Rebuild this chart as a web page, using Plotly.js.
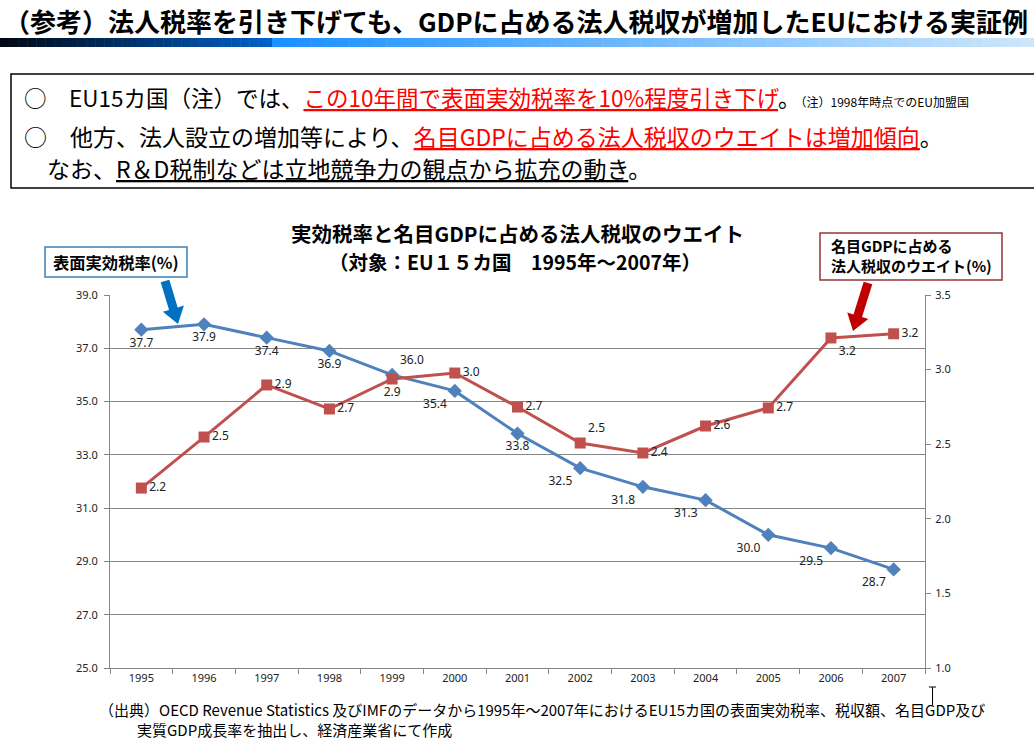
<!DOCTYPE html>
<html><head><meta charset="utf-8">
<script src="https://cdn.plot.ly/plotly-3.0.1.min.js"></script>
<style>html,body{margin:0;padding:0;background:#fff;}#chart{width:1034px;height:740px;}</style>
</head><body><div id="chart"></div>
<script>
// ---- data ----
const years = ['1995','1996','1997','1998','1999','2000','2001','2002','2003','2004','2005','2006','2007'];
const taxRate = [37.7, 37.9, 37.4, 36.9, 36.0, 35.4, 33.8, 32.5, 31.8, 31.3, 30.0, 29.5, 28.7];
const taxShare = [2.206, 2.548, 2.897, 2.736, 2.937, 2.977, 2.749, 2.508, 2.441, 2.622, 2.743, 3.212, 3.24];
const rateLabelPos = ['bottom center','bottom center','bottom center','bottom center','top right','bottom left','bottom center','bottom left','bottom left','bottom left','bottom left','bottom left','bottom left'];
const shareLabelPos = ['middle right','middle right','middle right','middle right','bottom center','middle right','middle right','top right','middle right','middle right','middle right','bottom right','middle right'];

const JP = '"Noto Sans CJK JP", "Noto Sans", sans-serif';
const NUM = '"Noto Sans", "Open Sans", sans-serif';

// layout geometry (pixels)
const M = {l:110, r:109, t:295, b:72};
const W = 1034, H = 740;
const PW = W - M.l - M.r, PH = H - M.t - M.b;
const px = p => (p - M.l) / PW;
const py = p => (H - M.b - p) / PH;

const traces = [
  {x: years, y: taxRate, type:'scatter', mode:'lines+markers+text', yaxis:'y',
   line:{color:'#4f81bd', width:3}, marker:{symbol:'diamond', size:11, color:'#4f81bd'},
   text: taxRate.map(v=>v.toFixed(1)), textposition: rateLabelPos,
   textfont:{family:NUM, size:12, color:'#222'}, cliponaxis:false, hoverinfo:'skip'},
  {x: years, y: taxShare, type:'scatter', mode:'lines+markers+text', yaxis:'y2',
   line:{color:'#c0504d', width:3}, marker:{symbol:'square', size:11, color:'#c0504d'},
   text: taxShare.map(v=>v.toFixed(1)), textposition: shareLabelPos,
   textfont:{family:NUM, size:12, color:'#222'}, cliponaxis:false, hoverinfo:'skip'}
];

const shapes = [];
// gradient bar under header
const N = 60;
for (let i=0;i<N;i++){
  const x0 = i*272/N, x1 = (i+1)*272/N + 0.5, t = i/(N-1);
  const c = [0, Math.round(8+(96-8)*t), Math.round(20+(200-20)*t)];
  shapes.push({type:'rect', xref:'paper', yref:'paper', x0:px(x0), x1:px(x1), y0:py(38), y1:py(47), fillcolor:`rgb(${c[0]},${c[1]},${c[2]})`, line:{width:0}, layer:'above'});
}
for (let i=0;i<N;i++){
  const x0 = 272 + i*(W-272)/N, x1 = 272 + (i+1)*(W-272)/N + 0.5, t = i/(N-1);
  const c = [Math.round(28+(205-28)*t), Math.round(144+(230-144)*t), Math.round(255+(250-255)*t)];
  shapes.push({type:'rect', xref:'paper', yref:'paper', x0:px(x0), x1:px(x1), y0:py(38), y1:py(47), fillcolor:`rgb(${c[0]},${c[1]},${c[2]})`, line:{width:0}, layer:'above'});
}
// main text box
shapes.push({type:'rect', xref:'paper', yref:'paper', x0:px(11), x1:px(1040), y0:py(74), y1:py(188), line:{color:'#000', width:1.5}});
// callout boxes
shapes.push({type:'rect', xref:'paper', yref:'paper', x0:px(45), x1:px(187), y0:py(247), y1:py(277), line:{color:'#3b7fb5', width:1.5}, fillcolor:'#fff'});
shapes.push({type:'rect', xref:'paper', yref:'paper', x0:px(820), x1:px(1002), y0:py(233), y1:py(280), line:{color:'#943634', width:1.5}, fillcolor:'#fff'});
// block arrows
function arrow(x0,y0,x1,y1,color){
  const dx=x1-x0, dy=y1-y0, L=Math.hypot(dx,dy), ux=dx/L, uy=dy/L, nx=-uy, ny=ux;
  const sw=4.5, hw=11, hl=16;
  const bx=x1-ux*hl, by=y1-uy*hl;
  const pts=[[x0+nx*sw,y0+ny*sw],[bx+nx*sw,by+ny*sw],[bx+nx*hw,by+ny*hw],[x1,y1],[bx-nx*hw,by-ny*hw],[bx-nx*sw,by-ny*sw],[x0-nx*sw,y0-ny*sw]];
  const path='M'+pts.map(p=>px(p[0]).toFixed(5)+','+py(p[1]).toFixed(5)).join(' L')+' Z';
  shapes.push({type:'path', xref:'paper', yref:'paper', path:path, fillcolor:color, line:{width:0}});
}
arrow(165,281,178,324,'#0070c0');
arrow(868,283,853,331,'#c00000');
// I-beam cursor artifact
shapes.push({type:'line', xref:'paper', yref:'paper', x0:px(932.5), x1:px(932.5), y0:py(687), y1:py(705), line:{color:'#000', width:1}});
shapes.push({type:'line', xref:'paper', yref:'paper', x0:px(929), x1:px(936), y0:py(687), y1:py(687), line:{color:'#000', width:1}});

const RED = 'color:#ff0000;text-decoration:underline';
const ann = (x,y,text,size,opts={}) => Object.assign({xref:'paper', yref:'paper', x:px(x), y:py(y), text:text, showarrow:false, xanchor:'left', yanchor:'middle', align:'left', font:{family:JP, size:size, color:'#000'}}, opts);

const annotations = [
  ann(2, 20, '<b>（参考）法人税率を引き下げても、GDPに占める法人税収が増加したEUにおける実証例</b>', 26),
  ann(22, 97, '○　EU15カ国（注）では、<span style="'+RED+'">この10年間で表面実効税率を10%程度引き下げ</span>。<span style="font-size:12px">（注）1998年時点でのEU加盟国</span>', 22.5),
  ann(22, 136, '○　他方、法人設立の増加等により、<span style="'+RED+'">名目GDPに占める法人税収のウエイトは増加傾向</span>。', 23),
  ann(22, 168, '　なお、<span style="text-decoration:underline">R＆D税制などは立地競争力の観点から拡充の動き</span>。', 23),
  ann(517, 233, '<b>実効税率と名目GDPに占める法人税収のウエイト</b>', 20.5, {xanchor:'center'}),
  ann(515, 261, '<b>（対象：EU１５カ国　1995年～2007年）</b>', 19.5, {xanchor:'center'}),
  ann(116, 262, '<b>表面実効税率(%)</b>', 16.3, {xanchor:'center'}),
  ann(829, 256, '<b>名目GDPに占める<br>法人税収のウエイト(%)</b>', 15),
  ann(97, 709, '（出典）OECD Revenue Statistics 及びIMFのデータから1995年～2007年におけるEU15カ国の表面実効税率、税収額、名目GDP及び', 15),
  ann(135, 729, '実質GDP成長率を抽出し、経済産業省にて作成', 15)
];

const layout = {
  width:W, height:H, margin:{l:M.l, r:M.r, t:M.t, b:M.b, pad:0},
  paper_bgcolor:'#fff', plot_bgcolor:'#fff', showlegend:false,
  font:{family:NUM, size:11, color:'#222'},
  xaxis:{type:'category', range:[-0.5,12.5], tickson:'boundaries', ticks:'outside', ticklen:5, tickcolor:'#868686',
         showline:true, linecolor:'#868686', linewidth:1, showgrid:false, tickfont:{family:NUM, size:11, color:'#222'}, fixedrange:true},
  yaxis:{range:[25,39], dtick:2, tick0:25, tickformat:'.1f', ticks:'outside', ticklen:5, tickcolor:'#868686',
         showline:true, linecolor:'#868686', linewidth:1, showgrid:true, gridcolor:'#868686', gridwidth:1, zeroline:false,
         tickfont:{family:NUM, size:11, color:'#222'}, ticklabelstandoff:4},
  yaxis2:{range:[1,3.5], dtick:0.5, tick0:1, tickformat:'.1f', overlaying:'y', side:'right', ticks:'outside', ticklen:5, tickcolor:'#868686',
          showline:true, linecolor:'#868686', linewidth:1, showgrid:false, zeroline:false,
          tickfont:{family:NUM, size:11, color:'#222'}, ticklabelstandoff:2},
  shapes:shapes, annotations:annotations
};
Plotly.newPlot('chart', traces, layout, {staticPlot:true});
</script></body></html>
